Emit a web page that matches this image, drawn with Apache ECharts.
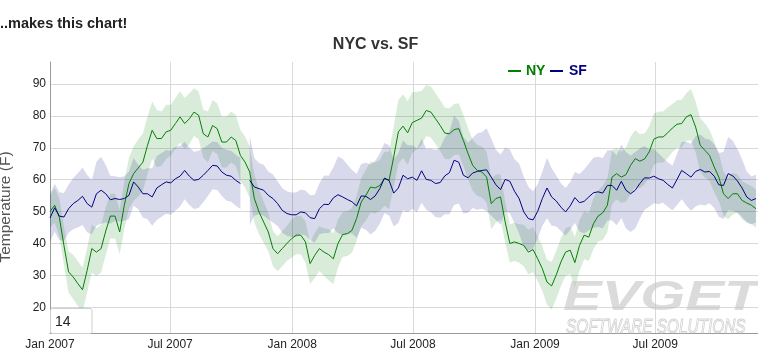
<!DOCTYPE html>
<html><head><meta charset="utf-8">
<script src="https://cdn.jsdelivr.net/npm/echarts@6/dist/echarts.min.js"></script>
<style>html,body{margin:0;padding:0;background:#fff;overflow:hidden}#c{width:758px;height:353px}</style>
</head><body><div id="c"></div>
<script>
// Weekly samples starting 1 Jan 2007 (14-day rolling averages)
const startYear = 2007, startMonth = 0, startDay = 1, stepDays = 7;
const monthNames = ['Jan','Feb','Mar','Apr','May','Jun','Jul','Aug','Sep','Oct','Nov','Dec'];

const nyMid = [
 50,52.0,48.3,39.4,31.1,29.5,27.4,25.5,31.6,38.4,
 37.3,38.4,43.9,48.6,48.6,43.6,52.0,58.8,61.9,63.7,
 65.5,70.8,75.5,72.9,72.9,75.0,75.5,77.6,79.7,77.6,
 79.1,81.2,80.2,74.4,73.4,77.0,76.0,71.8,71.8,73.4,
 72.3,67.6,65.5,62.4,54.1,49.9,46.7,43.6,38.4,36.8,38.4,40.0,
 41.5,42.6,42.6,40.5,33.7,36.3,38.4,37.3,36.5,35.2,
 40.0,42.8,43.1,44.1,47.8,53.0,55.1,57.7,57.4,58.2,
 60.3,59.8,67.1,75.0,76.8,74.7,77.9,78.6,79.3,81.7,
 81.2,79.1,77.0,74.6,74.4,75.7,76.0,72.3,68.2,64.5,
 62.9,62.4,60.8,52.5,54.1,54.6,46.7,40.0,40.5,40.0,39.4,37.3,
 38.1,35.2,32.1,27.9,26.7,30.2,34.2,37.3,37.9,34.0,
 39.4,42.6,42.0,46.2,48.6,49.6,52.0,60.8,61.9,60.8,
 61.6,64.5,66.6,65.8,66.5,68.7,72.7,73.4,73.4,74.7,
 76.2,77.4,77.6,79.7,80.4,76.5,70.8,69.2,67.6,64.0,
 60.8,55.6,54.1,55.6,55.6,53.5,52.7,52.0,50.9
];
const nyErr = [
 5,5.5,6,6,6.5,7,7,7,7,7.5,
 7.5,7.5,7.5,7,7,7,7.5,8,8.5,9,
 9,9,9,9,8.5,8.5,8,8,8,8,
 8,7.5,7.5,7.5,8,8,8,8,8,8,
 8,8,8,8,7.5,7,6.5,6,5.5,5.5,5.5,5.5,
 6,6,6,6.5,6.5,7,7,7.5,8,8,7.5,7,
 7,7,7,7.5,8,8,8,8,8.5,9,9.5,10,
 10,10,9.5,9,8.5,8,8,8,8,8,8,8,
 8,8,8,8,8,8,8,8,7.5,7,6.5,6,
 6,6,6.5,7,7,7,7,7,7.5,7.5,7.5,7.5,
 7.5,8,8,7.5,7.5,8,8,8.5,8.5,8.5,8,8,
 8.5,9,9,8.5,8,8,8,8,8,8,7.5,7.5,
 7.5,7.5,8,8,8.5,8.5,8,8,7.5,7,6.5,6.5,
 6,6,6,6,6
];
const sfMid = [
 48,51.2,48.6,48.3,50.9,52.5,53.5,54.8,52.5,51.4,
 55.6,56.7,55.6,53.7,54.1,53.8,54.1,55.1,59.3,57.7,
 55.6,55.6,54.6,57.4,58.4,59.3,59.0,60.3,61.1,62.9,
 61.1,59.8,60.1,61.4,62.9,64.5,64.3,62.4,61.4,61.1,
 59.8,58.8,null,59.8,57.7,57.2,56.7,55.1,54.1,52.5,50.4,49.4,
 49.0,49.0,49.9,49.6,48.1,47.8,50.9,52.3,52.2,54.3,
 55.3,54.6,53.8,53.1,51.8,54.9,54.8,53.8,54.9,57.2,
 60.5,59.8,55.8,57.4,61.4,60.3,60.8,59.8,62.8,60.1,
 59.8,58.8,59.1,61.2,62.2,66.1,65.5,61.4,60.6,62.1,
 62.6,62.9,63.1,60.8,58.4,56.9,60.1,59.5,56.4,54.1,49.9,47.8,
 47.4,50.1,54.1,57.4,54.6,53.3,51.4,49.9,51.8,54.4,
 52.8,53.2,54.6,55.9,56.2,55.8,58.2,58.2,56.7,59.5,
 56.7,55.6,56.7,58.8,60.6,60.5,61.1,60.3,59.8,58.5,
 57.4,60.1,62.9,61.9,60.8,62.6,63.2,62.4,62.6,61.1,
 58.4,58.2,61.9,61.2,59.6,57.4,54.6,53.5,54.1
];
const sfErr = [
 7.5,7.5,7.5,7.5,7.5,8,8.5,9,9,8.5,
 10,10.5,9,7.5,7,7,7,7.5,7.5,7,
 7.5,8,9,10,10,10,10,10,9.5,9,
 9,9,9,8.5,8,7.5,7.5,7.5,8,8,
 8,8,null,14,9,8,8,7.5,7.5,7,7,7,
 7,7,7,7,7,7.5,8,9,9,9.5,12,12,
 11,10,10,10,10.5,11,11,11,11,11,10.5,11,
 11,10.5,10,10,10,9.5,10,10.5,11,12,13,14,
 13,12,11,11,12,12,13,12,11,11,10,10,
 10,11,11,10,9,8.5,8.5,9.5,9,8,7.5,7.5,
 7.5,8,9,10,10.5,11,11,11,11,11,11,11.5,
 12,12,12,11,10,9,8.5,8,7,7,7,8,
 9,10,10.5,11,11,10.5,10,10,10,10.5,11.5,11,
 10,9,8,7.5,7.5
];

const FONT = '"Liberation Sans", Arial, Helvetica, sans-serif';
const DAY = 86400000;
const dates = nyMid.map((_, i) => new Date(startYear, startMonth, startDay + i * stepDays).getTime());
const xMin = new Date(2007, 0, 1).getTime();
const xMax = new Date(2009, 11, 3).getTime();

const pair = arr => arr.map((v, i) => [dates[i], v == null ? null : v]);
const low = (m, e) => m.map((v, i) => v == null ? null : +(v - e[i]).toFixed(2));
const width = (m, e) => m.map((v, i) => v == null ? null : +(2 * e[i]).toFixed(2));

const chart = echarts.init(document.getElementById('c'), null, {renderer: 'canvas'});
const baseLine = {type: 'line', symbol: 'none', showSymbol: false, silent: true, animation: false, emphasis: {disabled: true}};

chart.setOption({
  animation: false,
  grid: {left: 50, right: 0, top: 62, bottom: 20, containLabel: false},
  xAxis: {
    type: 'time', min: xMin, max: xMax, splitNumber: 6,
    minInterval: 182 * DAY, maxInterval: 184 * DAY,
    axisLine: {lineStyle: {color: '#9a9a9a', width: 1}},
    axisTick: {show: false},
    axisLabel: {
      color: '#222', fontSize: 12, fontFamily: FONT, margin: 6, showMaxLabel: false,
      formatter: function (v) { const d = new Date(v); return monthNames[d.getMonth()] + ' ' + d.getFullYear(); }
    },
    splitLine: {show: true, showMinLine: false, showMaxLine: false, lineStyle: {color: '#d9d9d9', width: 1}}
  },
  yAxis: {
    type: 'value', min: 11.94, max: 96.9, splitNumber: 8, minInterval: 10, maxInterval: 10,
    axisLine: {show: true, lineStyle: {color: '#9a9a9a', width: 1}},
    axisTick: {show: false},
    axisLabel: {color: '#222', fontSize: 12, fontFamily: FONT, margin: 4, showMinLabel: false, showMaxLabel: false},
    splitLine: {show: true, showMinLine: false, showMaxLine: false, lineStyle: {color: '#d9d9d9', width: 1}}
  },
  series: [
    Object.assign({}, baseLine, {name: 'nyLow', stack: 'ny', data: pair(low(nyMid, nyErr)), lineStyle: {opacity: 0}, z: 1}),
    Object.assign({}, baseLine, {name: 'nyBand', stack: 'ny', data: pair(width(nyMid, nyErr)), lineStyle: {opacity: 0},
      areaStyle: {color: 'rgba(0,128,0,0.15)', opacity: 1}, z: 1}),
    Object.assign({}, baseLine, {name: 'sfLow', stack: 'sf', data: pair(low(sfMid, sfErr)), lineStyle: {opacity: 0}, z: 1}),
    Object.assign({}, baseLine, {name: 'sfBand', stack: 'sf', data: pair(width(sfMid, sfErr)), lineStyle: {opacity: 0},
      areaStyle: {color: 'rgba(0,0,128,0.15)', opacity: 1}, z: 1}),
    Object.assign({}, baseLine, {name: 'NY', data: pair(nyMid), lineStyle: {color: '#008000', width: 1}, z: 3}),
    Object.assign({}, baseLine, {name: 'SF', data: pair(sfMid), lineStyle: {color: '#000080', width: 1}, z: 3})
  ],
  graphic: [
    {type: 'text', x: 0, y: 24, z: 10, style: {text: '..makes this chart!', font: 'bold 14.5px ' + FONT, fill: '#222', textVerticalAlign: 'middle'}},
    {type: 'text', x: 375.5, y: 45, z: 10, style: {text: 'NYC vs. SF', font: 'bold 16px ' + FONT, fill: '#333', textAlign: 'center', textVerticalAlign: 'middle'}},
    {type: 'line', z: 10, shape: {x1: 508, y1: 71, x2: 521, y2: 71}, style: {stroke: '#008000', lineWidth: 2}},
    {type: 'text', x: 526, y: 71, z: 10, style: {text: 'NY', font: 'bold 14px ' + FONT, fill: '#008000', textVerticalAlign: 'middle'}},
    {type: 'line', z: 10, shape: {x1: 550, y1: 71, x2: 563, y2: 71}, style: {stroke: '#000080', lineWidth: 2}},
    {type: 'text', x: 569, y: 71, z: 10, style: {text: 'SF', font: 'bold 14px ' + FONT, fill: '#000080', textVerticalAlign: 'middle'}},
    {type: 'text', x: 6, y: 207, rotation: Math.PI / 2, z: 10, style: {text: 'Temperature (F)', font: '15.5px ' + FONT, fill: '#555', textAlign: 'center', textVerticalAlign: 'middle'}},
    {type: 'rect', z: 10, shape: {x: 50.5, y: 308.5, width: 41.5, height: 25, r: 2}, style: {fill: '#fff', stroke: '#cfcfcf', lineWidth: 1}},
    {type: 'text', x: 55, y: 322, z: 11, style: {text: '14', font: '14px ' + FONT, fill: '#222', textVerticalAlign: 'middle'}},
    {type: 'text', x: 563, y: 319, scaleX: 1.38, z: 12, style: {text: 'EVGET', font: 'italic bold 42px ' + FONT, fill: 'rgba(195,195,195,0.6)', textVerticalAlign: 'bottom'}},
    {type: 'text', x: 566, y: 338, scaleX: 0.73, z: 12, style: {text: 'SOFTWARE SOLUTIONS', font: 'italic 21px ' + FONT, fill: 'rgba(255,255,255,0)', stroke: 'rgba(190,190,190,0.7)', lineWidth: 1, textVerticalAlign: 'bottom'}}
  ]
});
</script></body></html>
